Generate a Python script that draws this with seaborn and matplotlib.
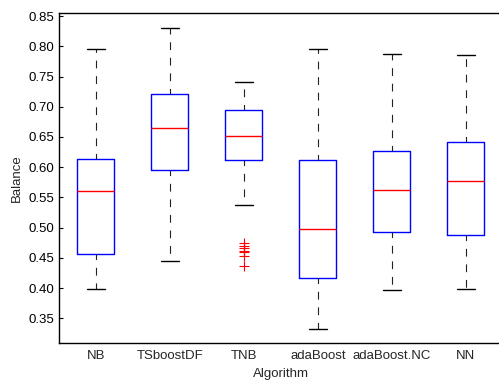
import pandas as pd
import matplotlib
matplotlib.use("Agg")
import matplotlib.pyplot as plt
import seaborn as sns

# Balance values per algorithm
algorithms = ["NB", "TSboostDF", "TNB", "adaBoost", "adaBoost.NC", "NN"]

nb = [0.398, 0.456, 0.560, 0.613, 0.795]
tsboostdf = [0.444, 0.595, 0.665, 0.721, 0.830]
tnb = [0.437, 0.453, 0.459, 0.462, 0.466, 0.470, 0.474,
       0.537, 0.612,
       0.615, 0.620, 0.625, 0.630, 0.636, 0.641, 0.646,
       0.651,
       0.655, 0.660, 0.666, 0.672, 0.678, 0.684, 0.689,
       0.694,
       0.698, 0.702, 0.707, 0.712, 0.718, 0.725, 0.732,
       0.741]
adaboost = [0.333, 0.416, 0.497, 0.612, 0.795]
adaboost_nc = [0.396, 0.492, 0.562, 0.626, 0.787]
nn = [0.398, 0.487, 0.577, 0.641, 0.785]

yticks = [0.35, 0.40, 0.45, 0.50, 0.55, 0.60, 0.65, 0.70, 0.75, 0.80, 0.85]

series = [nb, tsboostdf, tnb, adaboost, adaboost_nc, nn]
rows = []
for name, vals in zip(algorithms, series):
    for v in vals:
        rows.append({"Algorithm": name, "Balance": v})
df = pd.DataFrame(rows)

sns.set_style("white")
plt.rcParams["font.family"] = ["Liberation Sans", "DejaVu Sans"]

fig = plt.figure(figsize=(4.99, 3.85), dpi=100)
ax = fig.add_axes([0.118, 0.109, 0.890, 0.857])

sns.boxplot(
    data=df, x="Algorithm", y="Balance", order=algorithms,
    width=0.5, fill=False, color="blue", linewidth=1.0,
    boxprops={"color": "blue"},
    medianprops={"color": "red", "linewidth": 1.0},
    whiskerprops={"color": "#222222", "linewidth": 0.8, "linestyle": (2, (7, 7))},
    capprops={"color": "black", "linewidth": 1.0},
    flierprops={"marker": "+", "markeredgecolor": "red", "markersize": 7,
                "markeredgewidth": 0.8},
    ax=ax,
)

ax.set_xlim(-0.5, 5.5)
ax.set_ylim(0.309, 0.855)
ax.set_yticks(yticks)
ax.set_yticklabels([f"{t:.2f}" for t in yticks])
ax.set_xlabel("Algorithm", fontsize=9.5)
ax.set_ylabel("Balance", fontsize=9.5)
ax.tick_params(axis="y", direction="in", length=3, labelsize=9.5,
               left=True, right=True, colors="black")
ax.tick_params(axis="x", length=0, labelsize=9.5, pad=5)
for s in ax.spines.values():
    s.set_visible(True)
    s.set_color("black")
    s.set_linewidth(1.0)

fig.savefig("out.png", dpi=100)
